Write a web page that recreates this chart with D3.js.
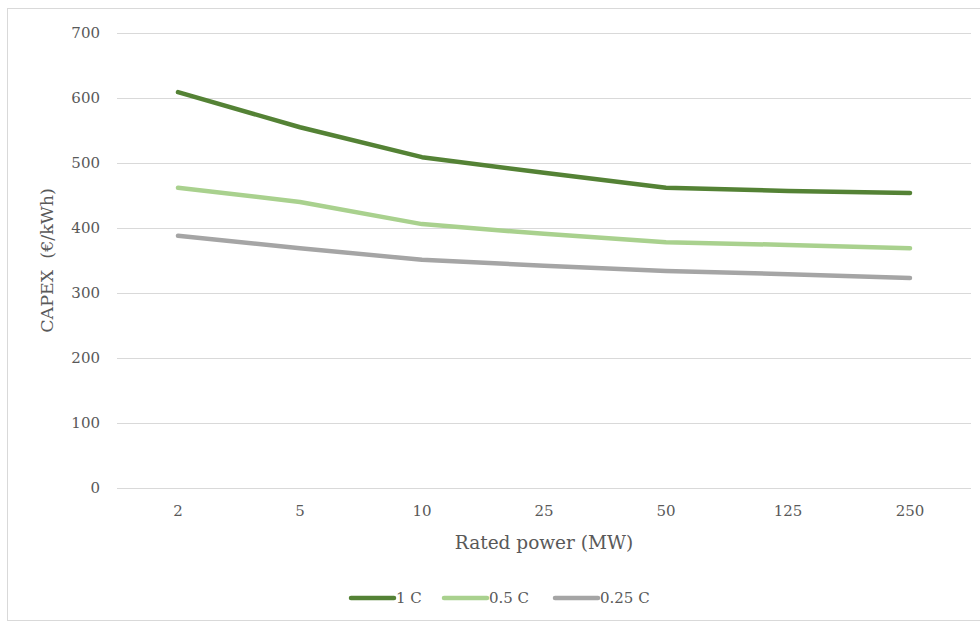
<!DOCTYPE html>
<html>
<head>
<meta charset="utf-8">
<script src="https://cdn.jsdelivr.net/npm/d3@7/dist/d3.min.js"></script>
<style>
  html, body { margin: 0; padding: 0; background: #fff; }
  svg { display: block; font-family: Georgia, "DejaVu Serif", "Liberation Serif", serif; }
</style>
</head>
<body>
<svg id="chart" width="980" height="623"></svg>
<script>
// Rated power categories (MW)
const categories = ["2", "5", "10", "25", "50", "125", "250"];

// CAPEX per C-rate (€/kWh)
const capex1C   = [609, 555, 509, 485, 462, 457, 454];
const capex05C  = [462, 440, 406, 391, 378, 374, 369];
const capex025C = [388, 369, 351, 342, 334, 329, 323];

const seriesNames = ["1 C", "0.5 C", "0.25 C"];
const yTicks = [0, 100, 200, 300, 400, 500, 600, 700];

const series = [
  { name: seriesNames[0], values: capex1C,   color: "#548235" },
  { name: seriesNames[1], values: capex05C,  color: "#A9D18E" },
  { name: seriesNames[2], values: capex025C, color: "#A5A5A5" }
];

const svg = d3.select("#chart");
const W = 980, H = 623;
const plot = { left: 117, right: 971, top: 33, bottom: 488 };
const textColor = "#595959";

// chart frame
svg.append("rect")
  .attr("x", 7.5).attr("y", 8.5)
  .attr("width", W + 10).attr("height", 612)
  .attr("fill", "#fff").attr("stroke", "#d9d9d9").attr("stroke-width", 1);

const x = d3.scaleBand().domain(categories).range([plot.left, plot.right]);
const y = d3.scaleLinear().domain([0, 700]).range([plot.bottom, plot.top]);

// horizontal gridlines
svg.append("g")
  .selectAll("line")
  .data(yTicks)
  .join("line")
  .attr("x1", plot.left).attr("x2", plot.right)
  .attr("y1", d => Math.round(y(d)) + 0.5).attr("y2", d => Math.round(y(d)) + 0.5)
  .attr("stroke", "#d9d9d9").attr("stroke-width", 1);

// y axis labels
const yAxis = d3.axisLeft(y).tickValues(yTicks).tickSize(0).tickPadding(0);
const gy = svg.append("g").attr("transform", `translate(${plot.left - 17},0)`).call(yAxis);
gy.select(".domain").remove();
gy.selectAll("text")
  .attr("fill", textColor).attr("font-size", 15)
  .attr("font-family", 'Georgia, "DejaVu Serif", serif');

// x axis labels
const xAxis = d3.axisBottom(x).tickSize(0).tickPadding(0);
const gx = svg.append("g").attr("transform", `translate(0,${plot.bottom + 17})`).call(xAxis);
gx.select(".domain").remove();
gx.selectAll("text")
  .attr("fill", textColor).attr("font-size", 15)
  .attr("font-family", 'Georgia, "DejaVu Serif", serif');

// axis titles
svg.append("text")
  .attr("x", (plot.left + plot.right) / 2).attr("y", 549)
  .attr("text-anchor", "middle")
  .attr("fill", textColor).attr("font-size", 18.5)
  .text("Rated power (MW)");

svg.append("text")
  .attr("transform", `translate(53,${(plot.top + plot.bottom) / 2}) rotate(-90)`)
  .attr("text-anchor", "middle")
  .attr("fill", textColor).attr("font-size", 17.5)
  .attr("xml:space", "preserve")
  .text("CAPEX  (€/kWh)");

// series lines
const line = d3.line()
  .x((d, i) => x(categories[i]) + x.bandwidth() / 2)
  .y(d => y(d));

svg.append("g")
  .selectAll("path")
  .data(series)
  .join("path")
  .attr("d", d => line(d.values))
  .attr("fill", "none")
  .attr("stroke", d => d.color)
  .attr("stroke-width", 4.5)
  .attr("stroke-linecap", "round")
  .attr("stroke-linejoin", "round");

// legend
const legendX = [351, 444, 555];
const lg = svg.append("g")
  .selectAll("g")
  .data(series)
  .join("g")
  .attr("transform", (d, i) => `translate(${legendX[i]},598)`);
lg.append("line")
  .attr("x1", 0).attr("x2", 43).attr("y1", 0).attr("y2", 0)
  .attr("stroke", d => d.color).attr("stroke-width", 4.5).attr("stroke-linecap", "round");
lg.append("text")
  .attr("x", 45).attr("y", 5)
  .attr("fill", textColor).attr("font-size", 15)
  .text(d => d.name);
</script>
</body>
</html>
